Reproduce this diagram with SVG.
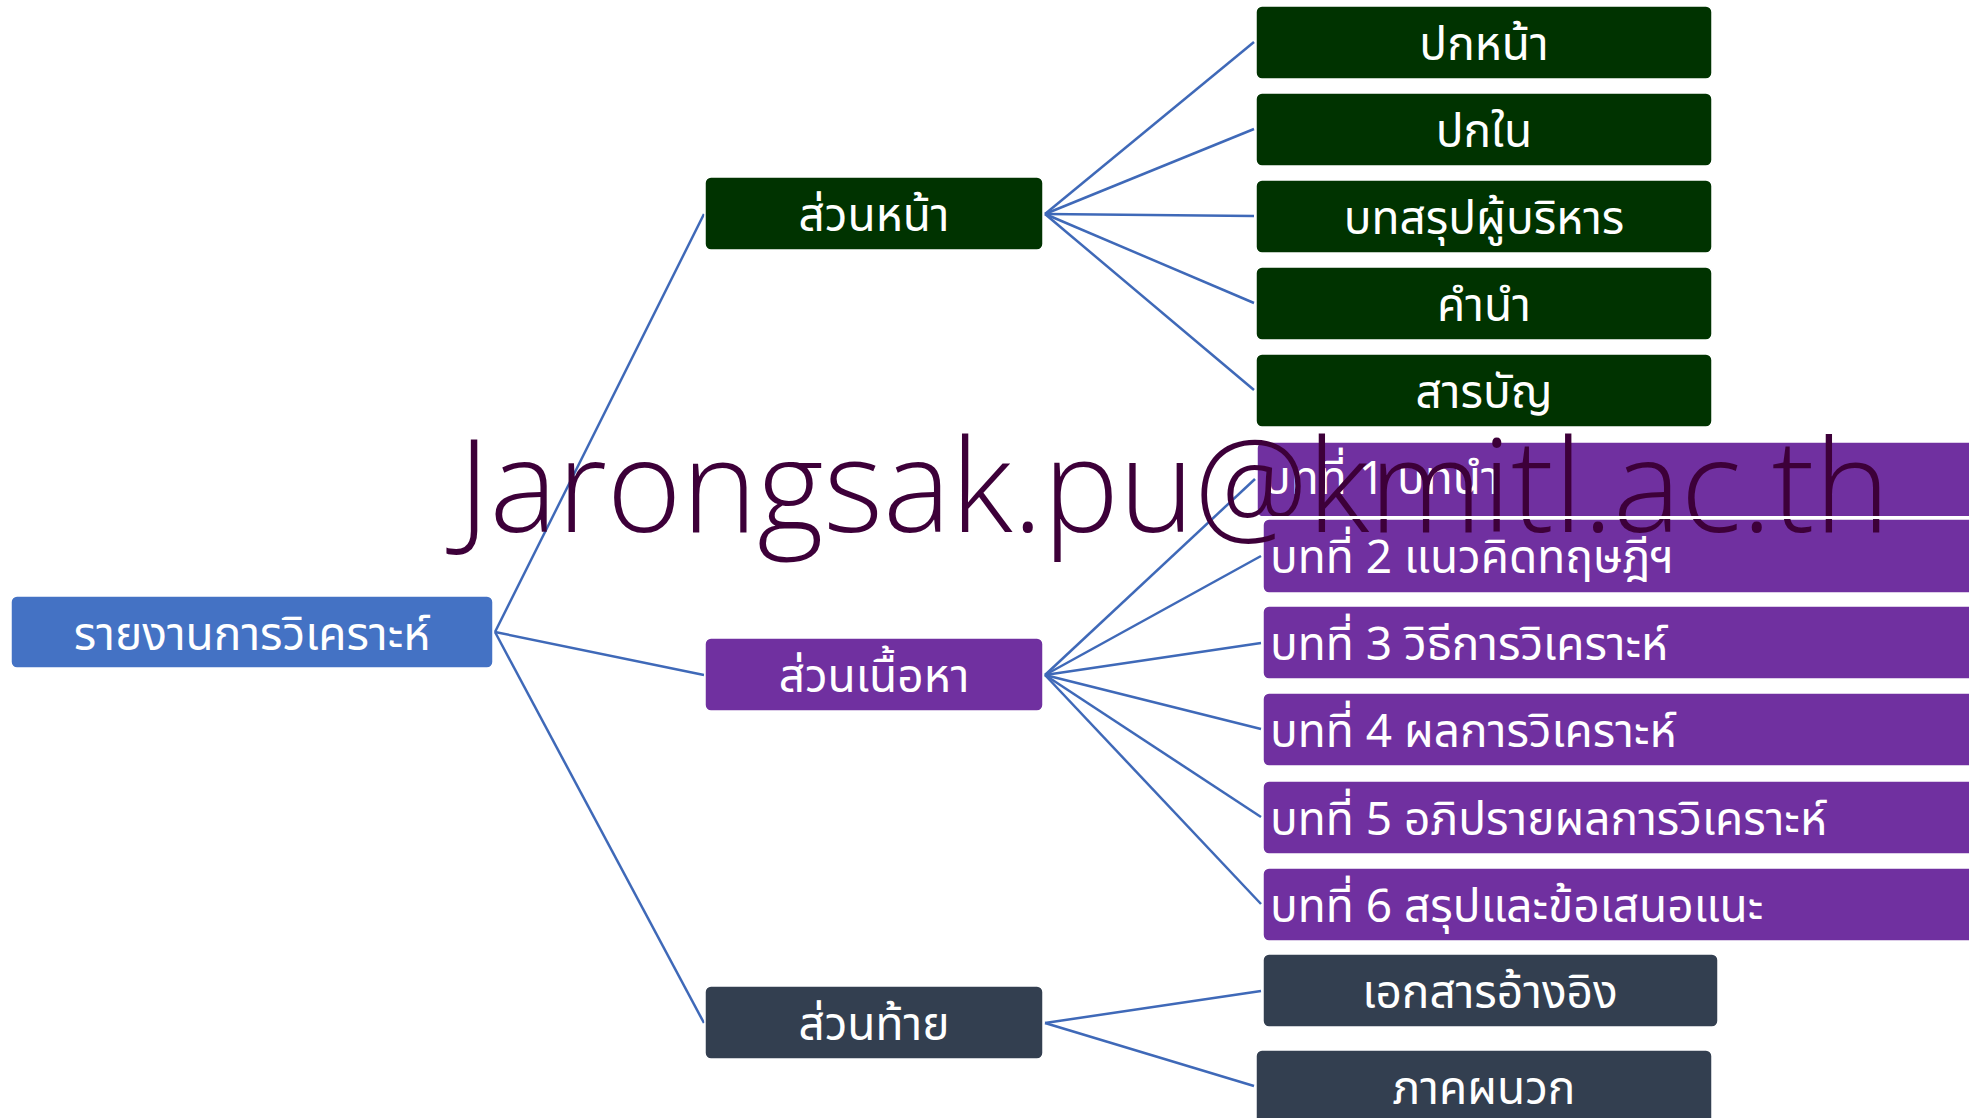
<svg xmlns="http://www.w3.org/2000/svg" width="1969" height="1118" viewBox="0 0 1969 1118">
<style>
.box{stroke:#ffffff;stroke-width:1.5}
.root{fill:#4472C4}
.green{fill:#003300}
.purple{fill:#7030A0}
.dark{fill:#333F50}
.t{font-family:'Noto Sans Thai','Noto Sans','DejaVu Sans',sans-serif;font-size:46px;fill:#ffffff}
.c{text-anchor:middle}
.conn line{stroke:#3F69B8;stroke-width:2.5;fill:none}
.wm{font-family:'Open Sans','Liberation Sans',sans-serif;font-weight:300;font-size:129px;fill:#3D0039}
</style>
<rect width="1969" height="1118" fill="#ffffff"/>
<g id="connectors" class="conn">
<line x1="495" y1="632" x2="704" y2="214"/>
<line x1="495" y1="632" x2="704" y2="675"/>
<line x1="495" y1="632" x2="704" y2="1023"/>
<line x1="1045" y1="214" x2="1254" y2="42"/>
<line x1="1045" y1="214" x2="1254" y2="129"/>
<line x1="1045" y1="214" x2="1254" y2="216"/>
<line x1="1045" y1="214" x2="1254" y2="303"/>
<line x1="1045" y1="214" x2="1254" y2="390"/>
<line x1="1045" y1="675" x2="1255" y2="479"/>
<line x1="1045" y1="675" x2="1261" y2="556"/>
<line x1="1045" y1="675" x2="1261" y2="643"/>
<line x1="1045" y1="675" x2="1261" y2="729"/>
<line x1="1045" y1="675" x2="1261" y2="817"/>
<line x1="1045" y1="675" x2="1261" y2="904"/>
<line x1="1045" y1="1023" x2="1261" y2="991"/>
<line x1="1045" y1="1023" x2="1254" y2="1086"/>
</g>
<g id="root">
<rect class="box root" x="11" y="596" width="482" height="72" rx="6"/>
<text class="t c" x="252" y="650">รายงานการวิเคราะห์</text>
</g>
<g id="front">
<rect class="box green" x="705" y="177" width="338" height="73" rx="6"/>
<text class="t c" x="874" y="231">ส่วนหน้า</text>
</g>
<g id="body">
<rect class="box purple" x="705" y="638" width="338" height="73" rx="6"/>
<text class="t c" x="874" y="692">ส่วนเนื้อหา</text>
</g>
<g id="back">
<rect class="box dark" x="705" y="986" width="338" height="73" rx="6"/>
<text class="t c" x="874" y="1040">ส่วนท้าย</text>
</g>
<g id="cover">
<rect class="box green" x="1256" y="6" width="456" height="73" rx="6"/>
<text class="t c" x="1484" y="60">ปกหน้า</text>
</g>
<g id="innercover">
<rect class="box green" x="1256" y="93" width="456" height="73" rx="6"/>
<text class="t c" x="1484" y="147">ปกใน</text>
</g>
<g id="summary">
<rect class="box green" x="1256" y="180" width="456" height="73" rx="6"/>
<text class="t c" x="1484" y="234">บทสรุปผู้บริหาร</text>
</g>
<g id="preface">
<rect class="box green" x="1256" y="267" width="456" height="73" rx="6"/>
<text class="t c" x="1484" y="321">คำนำ</text>
</g>
<g id="toc">
<rect class="box green" x="1256" y="354" width="456" height="73" rx="6"/>
<text class="t c" x="1484" y="408">สารบัญ</text>
</g>
<g id="ch1">
<rect class="box purple" x="1257" y="442" width="740" height="75" rx="6"/>
<text class="t" x="1263" y="494">บทที่ 1 บทนำ</text>
</g>
<g id="ch2">
<rect class="box purple" x="1263" y="519" width="740" height="74" rx="6"/>
<text class="t" x="1270" y="573">บทที่ 2 แนวคิดทฤษฎีฯ</text>
</g>
<g id="ch3">
<rect class="box purple" x="1263" y="606" width="740" height="73" rx="6"/>
<text class="t" x="1270" y="660">บทที่ 3 วิธีการวิเคราะห์</text>
</g>
<g id="ch4">
<rect class="box purple" x="1263" y="693" width="740" height="73" rx="6"/>
<text class="t" x="1270" y="747">บทที่ 4 ผลการวิเคราะห์</text>
</g>
<g id="ch5">
<rect class="box purple" x="1263" y="781" width="740" height="73" rx="6"/>
<text class="t" x="1270" y="835">บทที่ 5 อภิปรายผลการวิเคราะห์</text>
</g>
<g id="ch6">
<rect class="box purple" x="1263" y="868" width="740" height="73" rx="6"/>
<text class="t" x="1270" y="922">บทที่ 6 สรุปและข้อเสนอแนะ</text>
</g>
<g id="refs">
<rect class="box dark" x="1263" y="954" width="455" height="73" rx="6"/>
<text class="t c" x="1490" y="1008">เอกสารอ้างอิง</text>
</g>
<g id="appendix">
<rect class="box dark" x="1256" y="1050" width="456" height="80" rx="6"/>
<text class="t c" x="1484" y="1104">ภาคผนวก</text>
</g>
<text class="wm" x="458" y="532" textLength="1432" lengthAdjust="spacingAndGlyphs">Jarongsak.pu@kmitl.ac.th</text>
<line x1="1260" y1="517.5" x2="1969" y2="517.5" stroke="#ffffff" stroke-width="3"/>
</svg>
